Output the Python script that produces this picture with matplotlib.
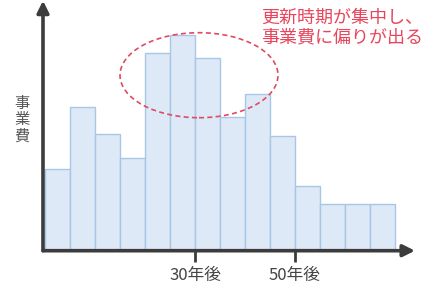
import matplotlib
matplotlib.use('Agg')
import matplotlib.pyplot as plt
from matplotlib.patches import Ellipse

plt.rcParams['font.family'] = ['Noto Sans CJK JP', 'DejaVu Sans']

# 5年刻みの事業費（相対値）
years = [0, 5, 10, 15, 20, 25, 30, 35, 40, 45, 50, 55, 60, 65]
cost = [82, 144, 117, 93, 198, 216, 193, 134, 157, 115, 65, 47, 47, 47]
tick_pos = [30, 50]
tick_labels = ['30年後', '50年後']

fig = plt.figure(figsize=(4.29, 2.89), dpi=100)
ax = fig.add_axes([43 / 429, 38.3 / 289, 367 / 429, 245.7 / 289])
ax.set_xlim(-0.4, 73)
ax.set_ylim(0, 245.7)

ax.bar(years, cost, width=5, align='edge', color='#dde9f6',
       edgecolor='#a8c7e6', linewidth=1.0, zorder=2)

for s in ax.spines.values():
    s.set_visible(False)

axis_col = '#3c3c3c'
arrow = dict(arrowstyle='-|>,head_length=0.7,head_width=0.35', color=axis_col,
             lw=2.6, shrinkA=0, shrinkB=0)
ax.annotate('', xy=(74, 0), xytext=(-0.4, 0), arrowprops=arrow,
            annotation_clip=False, zorder=5)
ax.annotate('', xy=(-0.4, 250), xytext=(-0.4, 0), arrowprops=arrow,
            annotation_clip=False, zorder=5)

ax.set_xticks(tick_pos)
ax.set_xticklabels(tick_labels, fontsize=12, color='#444444')
ax.tick_params(axis='x', length=8, width=2, color=axis_col, pad=4)
ax.set_yticks([])

ax.text(-4.6, 131, '事\n業\n費', fontsize=11, color='#555555',
        ha='center', va='center', linespacing=0.95)

ell = Ellipse((30.8, 175.5), 31.6, 85, fill=False, edgecolor='#e04a62',
              linestyle=(0, (3, 2)), linewidth=1.2, zorder=4)
ax.add_patch(ell)

ax.text(43.3, 223, '更新時期が集中し、\n事業費に偏りが出る', fontsize=13,
        color='#e8455c', ha='left', va='center', linespacing=1.08)

plt.savefig('out.png', dpi=100)
